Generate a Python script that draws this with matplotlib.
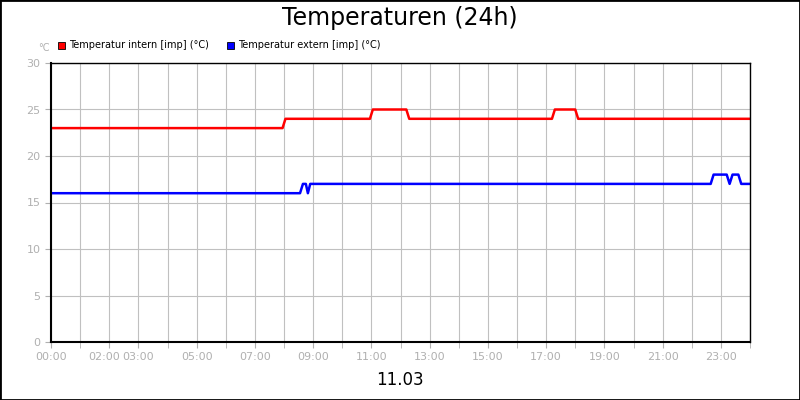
import matplotlib.pyplot as plt
from matplotlib.patches import Rectangle
from matplotlib.transforms import ScaledTranslation

# --- data (hours since 00:00) ---
intern_t = [0, 7.95, 8.05, 10.95, 11.05, 12.2, 12.3, 17.2, 17.3, 18.0, 18.1, 24]
intern_v = [23, 23, 24, 24, 25, 25, 24, 24, 25, 25, 24, 24]
extern_t = [0, 8.55, 8.65, 8.75, 8.82, 8.9, 22.65, 22.75, 23.2, 23.3, 23.4, 23.6, 23.7, 24]
extern_v = [16, 16, 17, 17, 16, 17, 17, 18, 18, 17, 18, 18, 17, 17]
tick_hours = [0, 2, 3, 5, 7, 9, 11, 13, 15, 17, 19, 21, 23]
tick_labels = [f"{h:02d}:00" for h in tick_hours]

fig = plt.figure(figsize=(8, 4), dpi=100)
fig.patches.append(Rectangle((0, 0), 1, 1, transform=fig.transFigure, fill=False,
                             edgecolor="black", linewidth=2))
ax = fig.add_axes([51 / 800, 58 / 400, 699 / 800, 279 / 400])

ax.plot(intern_t, intern_v, color="#ff0000", lw=1.8)
ax.plot(extern_t, extern_v, color="#0000ff", lw=1.8)

ax.set_xlim(0, 24)
ax.set_ylim(0, 30)
ax.set_xticks(range(25), minor=True)
ax.set_xticks(tick_hours)
ax.set_xticklabels(tick_labels)
ax.set_yticks(range(0, 31, 5))
ax.grid(True, which="both", color="#c0c0c0", lw=0.8)
ax.set_axisbelow(True)
ax.tick_params(which="both", colors="#b0b0b0", labelsize=8, length=4)
# nudge 02:00 left so it doesn't touch 03:00
lbl = ax.get_xticklabels()[1]
lbl.set_transform(lbl.get_transform() + ScaledTranslation(-0.05, 0, fig.dpi_scale_trans))
for s in ax.spines.values():
    s.set_color("black")
    s.set_linewidth(1)
ax.spines["left"].set_linewidth(1.5)
ax.spines["bottom"].set_linewidth(1.5)

fig.text(0.5, 1 - 18 / 400, "Temperaturen (24h)", ha="center", va="center", fontsize=17)
fig.text(0.5, 1 - 380 / 400, "11.03", ha="center", va="center", fontsize=12)
fig.text(38 / 800, 1 - 48 / 400, "°C", ha="left", va="center", fontsize=7, color="#b0b0b0")

for x, col, lab in [(58, "#ff0000", "Temperatur intern [imp] (°C)"),
                    (227, "#0000ff", "Temperatur extern [imp] (°C)")]:
    fig.patches.append(Rectangle((x / 800, 1 - 49 / 400), 7 / 800, 7 / 400,
                                 transform=fig.transFigure, facecolor=col,
                                 edgecolor="black", lw=0.6))
    fig.text((x + 11) / 800, 1 - 45 / 400, lab, ha="left", va="center", fontsize=7)

fig.savefig("out.png", dpi=100)
